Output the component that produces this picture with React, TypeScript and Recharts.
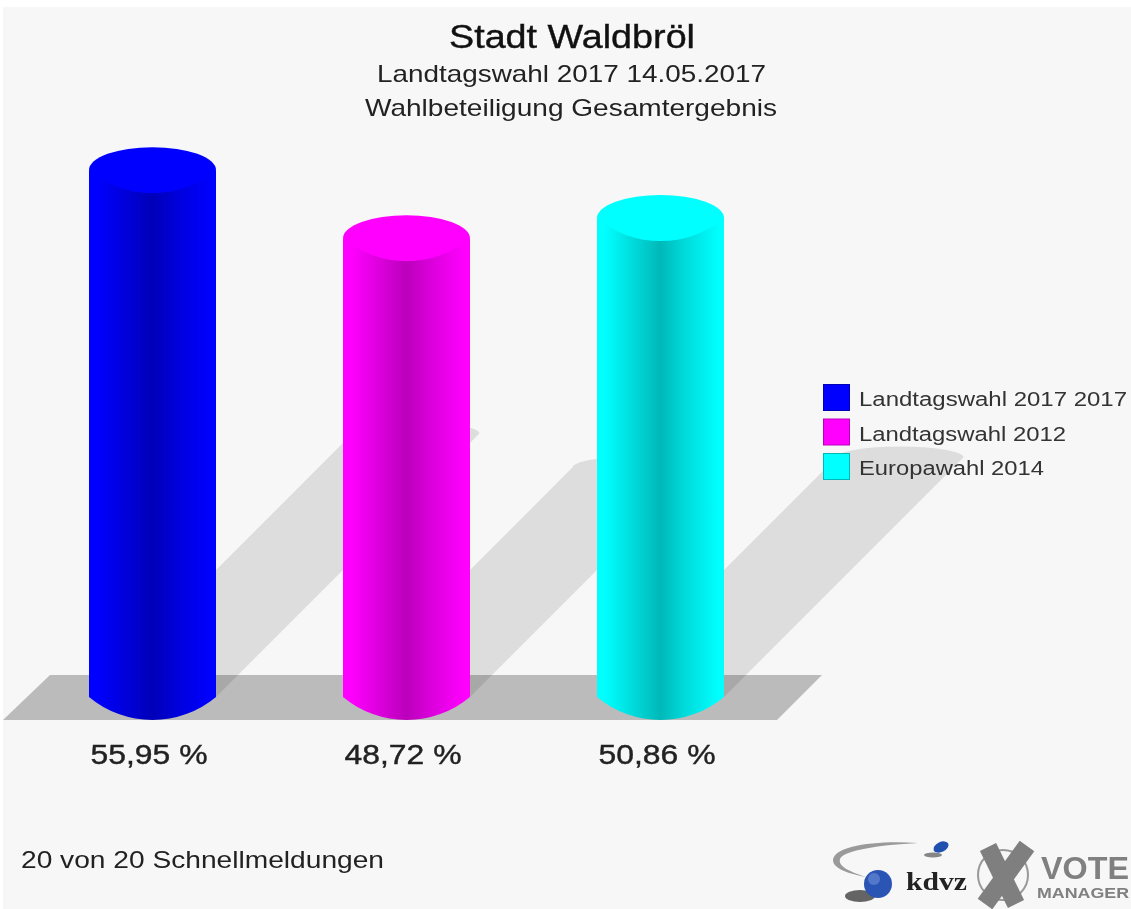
import { BarChart, Bar, XAxis, YAxis } from "recharts";

const ELECTIONS = ["Landtagswahl 2017 2017", "Landtagswahl 2012", "Europawahl 2014"];
const TURNOUT = [55.95, 48.72, 50.86];
const COLORS = ["#0000ff", "#ff00ff", "#00ffff"];
const MID_COLORS = ["#0000dc", "#dc00dc", "#00dcdc"];
const DARK_COLORS = ["#0000b8", "#bb00bb", "#00b8b8"];
const TITLE_LINES = ["Stadt Waldbröl", "Landtagswahl 2017 14.05.2017", "Wahlbeteiligung Gesamtergebnis"];
const FOOTER = "20 von 20 Schnellmeldungen";
const LEGEND_WIDTHS = [268, 207, 185];

const data = ELECTIONS.map((name, i) => ({
  name,
  value: TURNOUT[i],
  label: TURNOUT[i].toFixed(2).replace(".", ",") + " %",
  index: i,
}));

const FONT = "'Liberation Sans', Arial, sans-serif";

function ValueTick({ x, y, payload }: any) {
  return (
    <text
      x={x - 61.5}
      y={y + 65}
      fontFamily={FONT}
      fontSize={27}
      fill="#222"
      stroke="#222"
      strokeWidth={0.4}
      textLength={117}
      lengthAdjust="spacingAndGlyphs"
    >
      {payload.value}
    </text>
  );
}

function ShadowShape({ x, y, width, height }: any) {
  const base = y + height;
  const d = height / 2;
  return (
    <path
      d={`M${x} ${base} L${x + d} ${base - d} A${width / 2} 11 0 0 1 ${x + width + d} ${base - d} L${x + width} ${base} Z`}
      fill="#000"
      fillOpacity={0.1}
    />
  );
}

function CylinderShape({ x, y, width, height, payload }: any) {
  const i = payload.index;
  const base = y + height;
  const r = x + width;
  return (
    <g>
      <path d={`M${x} ${y} L${x} ${base} A99 99 0 0 0 ${r} ${base} L${r} ${y} Z`} fill={`url(#body${i})`} />
      <path d={`M${x} ${y} A${width / 2} 23 0 0 1 ${r} ${y} A99 99 0 0 1 ${x} ${y} Z`} fill={COLORS[i]} />
    </g>
  );
}

function Logos() {
  return (
    <g>
      <path d="M918 843 C875 840 834 846 833 860 C833 869 850 874 866 877 C848 871 838 866 840 859 C844 850 880 845 918 843 Z" fill="#9a9a9a" />
      <ellipse cx="933" cy="855" rx="9" ry="2.5" fill="#555" opacity={0.7} />
      <ellipse cx="941" cy="847" rx="8" ry="5" fill="#2050b0" transform="rotate(-25 941 847)" />
      <ellipse cx="860" cy="896" rx="15" ry="6" fill="#333" opacity={0.75} />
      <circle cx="878" cy="884" r="14" fill="#2a55b5" />
      <circle cx="874" cy="879" r="6" fill="#6f90d8" opacity={0.6} />
      <text x="906" y="890" fontFamily="'Liberation Serif', serif" fontWeight="bold" fontSize="25" fill="#222" textLength={61} lengthAdjust="spacingAndGlyphs">
        kdvz
      </text>
      <circle cx="1003" cy="875" r="25" fill="none" stroke="#999" strokeWidth="2" />
      <line x1="988" y1="847" x2="1016" y2="904" stroke="#7f7f7f" strokeWidth="18" />
      <line x1="1027" y1="846" x2="985" y2="904" stroke="#7f7f7f" strokeWidth="18" />
      <text x="1041" y="879" fontFamily={FONT} fontWeight="bold" fontSize="32" fill="#808080" textLength={88} lengthAdjust="spacingAndGlyphs">
        VOTE
      </text>
      <text x="1037" y="898" fontFamily={FONT} fontWeight="bold" fontSize="15" fill="#808080" textLength={92} lengthAdjust="spacingAndGlyphs">
        MANAGER
      </text>
    </g>
  );
}

export default function App() {
  return (
    <div style={{ position: "absolute", left: 0, top: 0, width: 1131, height: 909, background: "#fff", overflow: "hidden", filter: "blur(0.5px)" }}>
      <svg width={1131} height={909} style={{ position: "absolute", left: 0, top: 0 }}>
        <rect x={3} y={7} width={1128} height={902} fill="#f7f7f7" />
        <polygon points="3,720 50,675 822,675 777,720" fill="#bbbbbb" />
      </svg>
      <div style={{ position: "absolute", left: 0, top: 0 }}>
        <BarChart
          width={1131}
          height={909}
          data={data}
          margin={{ top: 132, right: 344, bottom: 0, left: 25 }}
          barSize={127}
          barGap={-127}
        >
          <defs>
            {COLORS.map((color, i) => (
              <linearGradient key={color} id={`body${i}`} x1="0" y1="0" x2="1" y2="0">
                <stop offset="6%" stopColor={color} />
                <stop offset="50%" stopColor={DARK_COLORS[i]} />
                <stop offset="70%" stopColor={MID_COLORS[i]} />
                <stop offset="96%" stopColor={color} />
              </linearGradient>
            ))}
          </defs>
          <XAxis
            dataKey="label"
            height={212}
            axisLine={false}
            tickLine={false}
            tickSize={0}
            interval={0}
            tick={<ValueTick />}
          />
          <YAxis hide domain={[0, 60]} />
          <Bar dataKey="value" shape={<ShadowShape />} isAnimationActive={false} />
          <Bar dataKey="value" shape={<CylinderShape />} isAnimationActive={false} />
        </BarChart>
      </div>
      <svg width={1131} height={909} style={{ position: "absolute", left: 0, top: 0 }}>
        <text x={449} y={48} fontFamily={FONT} fontSize={34} fill="#111" stroke="#111" strokeWidth={0.4} textLength={246} lengthAdjust="spacingAndGlyphs">
          {TITLE_LINES[0]}
        </text>
        <text x={377} y={82} fontFamily={FONT} fontSize={24} fill="#222" textLength={389} lengthAdjust="spacingAndGlyphs">
          {TITLE_LINES[1]}
        </text>
        <text x={365} y={116} fontFamily={FONT} fontSize={24} fill="#222" textLength={412} lengthAdjust="spacingAndGlyphs">
          {TITLE_LINES[2]}
        </text>
        {ELECTIONS.map((name, i) => (
          <g key={name}>
            <rect x={823.5} y={384.5 + i * 34.5} width={26} height={26} fill={COLORS[i]} stroke={DARK_COLORS[i]} />
            <text x={859} y={406 + i * 34.5} fontFamily={FONT} fontSize={20} fill="#333" textLength={LEGEND_WIDTHS[i]} lengthAdjust="spacingAndGlyphs">
              {name}
            </text>
          </g>
        ))}
        <text x={21} y={868} fontFamily={FONT} fontSize={24} fill="#222" textLength={363} lengthAdjust="spacingAndGlyphs">
          {FOOTER}
        </text>
        <Logos />
      </svg>
    </div>
  );
}
